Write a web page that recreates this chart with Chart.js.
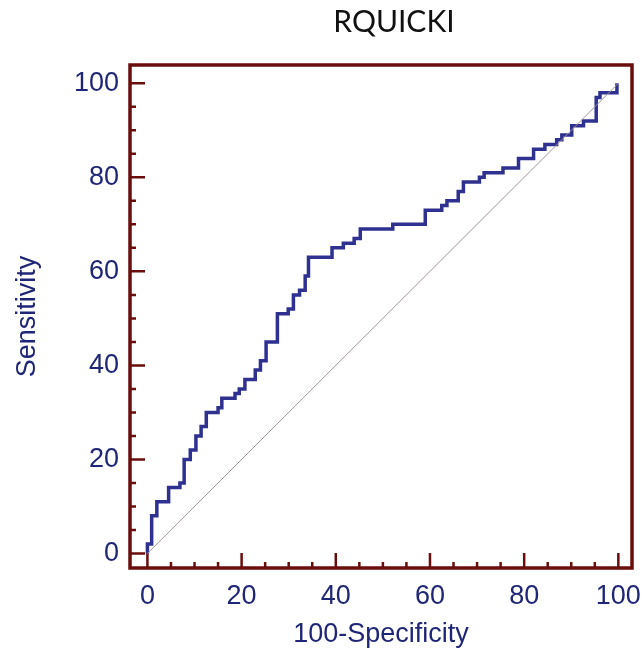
<!DOCTYPE html>
<html>
<head>
<meta charset="utf-8">
<script src="https://cdn.jsdelivr.net/npm/chart.js@4.4.1/dist/chart.umd.min.js"></script>
<style>
  html, body { margin: 0; padding: 0; background: #fff; overflow: hidden; }
  #wrap { position: relative; width: 642px; height: 656px; }
  #title {
    position: absolute; left: 294px; top: 5px; width: 200px;
    text-align: center; font: 30px Lato, "Open Sans", sans-serif;
    line-height: 30px; color: #111;
  }
</style>
</head>
<body>
<div id="wrap">
  <canvas id="rocChart" width="642" height="656"></canvas>
  <div id="title">RQUICKI</div>
</div>
<script>
// ROC points (100-Specificity, Sensitivity)
const falsePos = [0, 0, 0.9, 2.0, 4.5, 6.9, 7.8, 9.1, 10.3, 11.4, 12.5, 15.0, 15.8, 18.6, 19.5,
  20.7, 22.9, 24.0, 25.2, 27.6, 29.9, 31.0, 32.3, 33.5, 34.2, 39.2, 41.6, 43.9, 45.2, 52.1,
  59.0, 62.5, 63.6, 66.0, 67.1, 70.5, 71.5, 75.5, 78.8, 82.0, 84.4, 86.9, 88.0, 90.1, 92.6,
  95.3, 96.1, 99.7];
const sensitivity = [0, 2, 8, 11, 14, 15, 20, 22, 25, 27, 30, 31, 33, 34, 35,
  37, 39, 41, 45, 51, 52, 55, 56, 59, 63, 65, 66, 67, 69, 70,
  73, 74, 75, 77, 79, 80, 81, 82, 84, 86, 87, 88, 89, 91, 92,
  97, 98, 100];
// reference (chance) line
const diagX = [0, 100];
const diagY = [0, 100];
const tickValues = [0, 20, 40, 60, 80, 100];

const navy = '#1f2676';
const frameColor = '#6a0d0d';
const labelFont = { family: '"Liberation Sans", Arial, sans-serif', size: 27 };

// frame plus inward ticks (every 5, longer every 20)
const framePlugin = {
  id: 'frame',
  beforeDatasetsDraw(chart) {
    const { ctx, chartArea: a, scales } = chart;
    ctx.save();
    ctx.strokeStyle = frameColor;
    ctx.lineWidth = 2.5;
    for (let v = 0; v <= 100; v += 5) {
      const len = v % 20 === 0 ? 15 : 6;
      const px = scales.x.getPixelForValue(v);
      const py = scales.y.getPixelForValue(v);
      ctx.beginPath();
      ctx.moveTo(px, a.bottom);
      ctx.lineTo(px, a.bottom - len);
      ctx.moveTo(a.left, py);
      ctx.lineTo(a.left + len, py);
      ctx.stroke();
    }
    ctx.lineWidth = 3.5;
    ctx.strokeRect(a.left, a.top, a.right - a.left, a.bottom - a.top);
    ctx.restore();
  },
};

new Chart(document.getElementById('rocChart'), {
  type: 'scatter',
  data: {
    datasets: [
      {
        data: diagX.map((x, i) => ({ x, y: diagY[i] })),
        showLine: true,
        borderColor: '#a39398',
        borderWidth: 1,
        pointRadius: 0,
      },
      {
        data: falsePos.map((x, i) => ({ x, y: sensitivity[i] })),
        showLine: true,
        stepped: 'before',
        borderColor: '#2e3190',
        borderWidth: 3.5,
        pointRadius: 0,
      },
    ],
  },
  options: {
    responsive: false,
    animation: false,
    layout: { padding: { top: 65, right: 10, bottom: 0, left: 0 } },
    plugins: { legend: { display: false }, tooltip: { enabled: false } },
    scales: {
      x: {
        type: 'linear',
        min: -3.7,
        max: 102.9,
        grid: { display: false, drawTicks: false },
        border: { display: false },
        afterBuildTicks: (s) => { s.ticks = tickValues.map((value) => ({ value })); },
        afterFit: (s) => {
          s.height = 88;
          s.paddingLeft = 0;
          s.paddingRight = 0;
        },
        ticks: { padding: 12, color: navy, font: labelFont },
        title: {
          display: true,
          text: '100-Specificity',
          color: navy,
          padding: { top: 0, bottom: 5 },
          font: labelFont,
        },
      },
      y: {
        type: 'linear',
        min: -3.1,
        max: 103.9,
        grid: { display: false, drawTicks: false },
        border: { display: false },
        afterBuildTicks: (s) => { s.ticks = tickValues.map((value) => ({ value })); },
        afterFit: (s) => {
          s.width = 130;
          s.paddingTop = 0;
          s.paddingBottom = 0;
        },
        ticks: { padding: 11, color: navy, font: labelFont },
        title: {
          display: true,
          text: 'Sensitivity',
          color: navy,
          padding: { top: 11, bottom: 0 },
          font: labelFont,
        },
      },
    },
  },
  plugins: [framePlugin],
});
</script>
</body>
</html>
